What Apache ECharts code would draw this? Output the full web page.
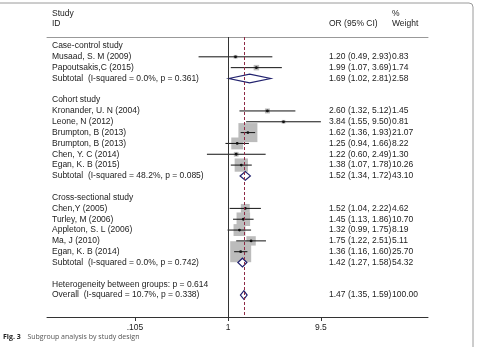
<!DOCTYPE html>
<html>
<head>
<meta charset="utf-8">
<script src="https://cdn.jsdelivr.net/npm/echarts@6/dist/echarts.min.js"></script>
<style>
  html, body { margin: 0; padding: 0; background: #fff; }
  #chart-container { width: 480px; height: 347px; }
</style>
</head>
<body>
<div id="chart-container"></div>
<script>
// data
var groupNames = ['Case-control study', 'Cohort study', 'Cross-sectional study'];
var studyNames = [
  'Musaad, S. M (2009)', 'Papoutsakis,C (2015)',
  'Kronander, U. N (2004)', 'Leone, N (2012)', 'Brumpton, B (2013)', 'Brumpton, B (2013)', 'Chen, Y. C (2014)', 'Egan, K. B (2015)',
  'Chen,Y (2005)', 'Turley, M (2006)', 'Appleton, S. L (2006)', 'Ma, J (2010)', 'Egan, K. B (2014)'
];
var studyGroup = [0, 0, 1, 1, 1, 1, 1, 1, 2, 2, 2, 2, 2];
var studyOR = [1.20, 1.99, 2.60, 3.84, 1.62, 1.25, 1.22, 1.38, 1.52, 1.45, 1.32, 1.75, 1.36];
var studyLo = [0.49, 1.07, 1.32, 1.55, 1.36, 0.94, 0.60, 1.07, 1.04, 1.13, 0.99, 1.22, 1.16];
var studyHi = [2.93, 3.69, 5.12, 9.50, 1.93, 1.66, 2.49, 1.78, 2.22, 1.86, 1.75, 2.51, 1.60];
var studyWeight = ['0.83', '1.74', '1.45', '0.81', '21.07', '8.22', '1.30', '10.26', '4.62', '10.70', '8.19', '5.11', '25.70'];

var subtotalLabels = [
  'Subtotal  (I-squared = 0.0%, p = 0.361)',
  'Subtotal  (I-squared = 48.2%, p = 0.085)',
  'Subtotal  (I-squared = 0.0%, p = 0.742)'
];
var subtotalOR = [1.69, 1.52, 1.42];
var subtotalLo = [1.02, 1.34, 1.27];
var subtotalHi = [2.81, 1.72, 1.58];
var subtotalWeight = ['2.58', '43.10', '54.32'];

var heterogeneityLabel = 'Heterogeneity between groups: p = 0.614';
var overallLabel = 'Overall  (I-squared = 10.7%, p = 0.338)';
var overallOR = 1.47, overallLo = 1.35, overallHi = 1.59, overallWeight = '100.00';

var tickValues = [0.105, 1, 9.5];
var tickLabels = ['.105', '1', '9.5'];

// build table rows
var textRows = [];   // [x, row, label, ci, weight]
var studyData = [];  // [or, row, lo, hi, weight]
var diamondData = []; // [or, row, lo, hi]
function ci(o, l, h) {
  return o.toFixed(2) + ' (' + l.toFixed(2) + ', ' + h.toFixed(2) + ')';
}
var r = 0;
for (var g = 0; g < groupNames.length; g++) {
  textRows.push([1, r, groupNames[g], '', '']);
  r++;
  for (var i = 0; i < studyNames.length; i++) {
    if (studyGroup[i] !== g) continue;
    textRows.push([1, r, studyNames[i], ci(studyOR[i], studyLo[i], studyHi[i]), studyWeight[i]]);
    studyData.push([studyOR[i], r, studyLo[i], studyHi[i], parseFloat(studyWeight[i])]);
    r++;
  }
  textRows.push([1, r, subtotalLabels[g], ci(subtotalOR[g], subtotalLo[g], subtotalHi[g]), subtotalWeight[g]]);
  diamondData.push([subtotalOR[g], r, subtotalLo[g], subtotalHi[g]]);
  r += 2;
}
textRows.push([1, r, heterogeneityLabel, '', '']);
r++;
textRows.push([1, r, overallLabel, ci(overallOR, overallLo, overallHi), overallWeight]);
diamondData.push([overallOR, r, overallLo, overallHi]);

// header
textRows.push([1, -2.95, 'Study', '', '%']);
textRows.push([1, -2.03, 'ID', 'OR (95% CI)', 'Weight']);

var FONT = '8.5px "Liberation Sans", Arial, sans-serif';

var dom = document.getElementById('chart-container');
var myChart = echarts.init(dom, null, { renderer: 'canvas' });

var option = {
  animation: false,
  grid: { left: 47, right: 52, top: 37, bottom: 30 },
  xAxis: [
    {
      type: 'log',
      min: 0.01244,
      max: 127.4,
      axisLine: { show: true, onZero: false, lineStyle: { color: '#333', width: 1 } },
      splitLine: { show: false },
      axisTick: { show: true, length: 4, customValues: tickValues, lineStyle: { color: '#333' } },
      axisLabel: {
        customValues: tickValues,
        margin: 6,
        color: '#222',
        fontSize: 8.5,
        fontFamily: 'Liberation Sans',
        formatter: function (v) {
          for (var k = 0; k < tickValues.length; k++) {
            if (Math.abs(v - tickValues[k]) < 1e-6) return tickLabels[k];
          }
          return '';
        }
      }
    },
    {
      type: 'value',
      position: 'top',
      min: 0, max: 1,
      axisLine: { show: true, onZero: false, lineStyle: { color: '#999', width: 1 } },
      axisTick: { show: false },
      axisLabel: { show: false },
      splitLine: { show: false }
    }
  ],
  yAxis: {
    type: 'value',
    inverse: true,
    min: -0.83,
    max: 25.03,
    show: false
  },
  graphic: [
    {
      type: 'rect',
      shape: { x: -10, y: 3, width: 483, height: 380, r: 4 },
      style: { fill: 'none', stroke: '#9a9a9a', lineWidth: 1 },
      silent: true
    },
    {
      type: 'text',
      left: 3,
      top: 331,
      style: {
        text: '{b|Fig. 3}  {n|Subgroup analysis by study design}',
        rich: {
          b: { fontWeight: 'bold', fill: '#222', fontSize: 7, fontFamily: 'Open Sans' },
          n: { fill: '#555', fontSize: 7, fontFamily: 'Open Sans' }
        }
      }
    }
  ],
  series: [
    {
      // grey weight boxes
      type: 'custom',
      name: 'boxes',
      encode: { x: [0, 2, 3], y: 1 },
      data: studyData,
      z: 2,
      renderItem: function (params, api) {
        var p = api.coord([api.value(0), api.value(1)]);
        var side = 4.14 * Math.sqrt(api.value(4));
        return {
          type: 'rect',
          shape: { x: p[0] - side / 2, y: p[1] - side / 2, width: side, height: side },
          style: { fill: '#bcbcbc' }
        };
      },
      markLine: {
        silent: true,
        symbol: 'none',
        label: { show: false },
        data: [
          { xAxis: 1, lineStyle: { color: '#333', type: 'solid', width: 1 } },
          { xAxis: overallOR, lineStyle: { color: '#8e2a45', type: [3, 2], width: 1 } }
        ]
      }
    },
    {
      // CI lines and point estimates
      type: 'custom',
      name: 'studies',
      encode: { x: [0, 2, 3], y: 1 },
      data: studyData,
      z: 3,
      renderItem: function (params, api) {
        var p = api.coord([api.value(0), api.value(1)]);
        var a = api.coord([api.value(2), api.value(1)]);
        var b = api.coord([api.value(3), api.value(1)]);
        return {
          type: 'group',
          children: [
            {
              type: 'line',
              shape: { x1: a[0], y1: a[1], x2: b[0], y2: b[1] },
              style: { stroke: '#111', lineWidth: 1 }
            },
            {
              type: 'circle',
              shape: { cx: p[0], cy: p[1], r: 1.4 },
              style: { fill: '#111' }
            }
          ]
        };
      }
    },
    {
      // pooled diamonds
      type: 'custom',
      name: 'pooled',
      encode: { x: [0, 2, 3], y: 1 },
      data: diamondData,
      z: 4,
      renderItem: function (params, api) {
        var row = api.value(1);
        var top = api.coord([api.value(0), row - 0.4]);
        var bot = api.coord([api.value(0), row + 0.4]);
        var a = api.coord([api.value(2), row]);
        var b = api.coord([api.value(3), row]);
        return {
          type: 'polygon',
          shape: { points: [[a[0], a[1]], [top[0], top[1]], [b[0], b[1]], [bot[0], bot[1]]] },
          style: { fill: '#fff', stroke: '#22226e', lineWidth: 1.2 }
        };
      }
    },
    {
      // table text
      type: 'custom',
      name: 'table',
      encode: { x: 0, y: 1 },
      data: textRows,
      z: 5,
      renderItem: function (params, api) {
        var item = textRows[params.dataIndex];
        var y = api.coord([1, item[1]])[1];
        var x0 = params.coordSys.x;
        var kids = [];
        var cols = [[item[2], x0 + 5], [item[3], x0 + 282], [item[4], x0 + 345]];
        cols.forEach(function (c) {
          if (!c[0]) return;
          kids.push({
            type: 'text',
            style: { text: c[0], x: c[1], y: y, font: FONT, fill: '#222', verticalAlign: 'middle', textAlign: 'left' }
          });
        });
        return { type: 'group', children: kids };
      }
    }
  ]
};

myChart.setOption(option);
window.addEventListener('resize', myChart.resize);
</script>
</body>
</html>
